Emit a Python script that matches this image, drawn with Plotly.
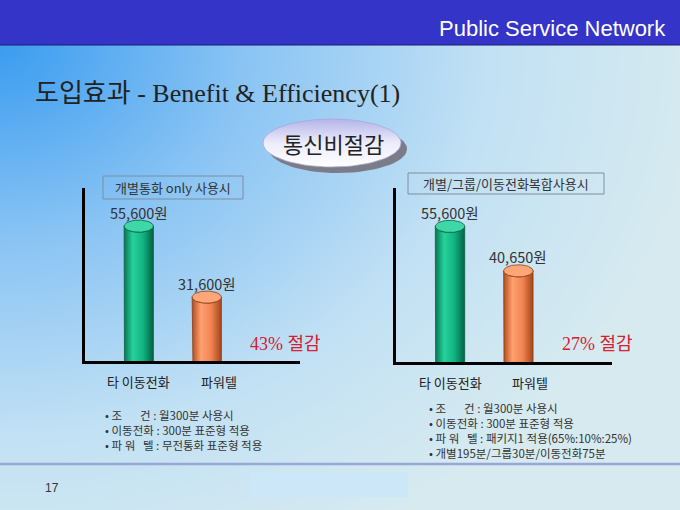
import numpy as np
import plotly.graph_objects as go

W, H = 680, 510

# ---- data ----
categories = ["타 이동전화", "파워텔"]
fee_single = [55600, 31600]    # 개별통화 only 사용시
fee_mixed = [55600, 40650]     # 개별/그룹/이동전화복합사용시
panel_titles = ["개별통화 only 사용시", "개별/그룹/이동전화복합사용시"]
notes_left = [
    "• 조\u00a0\u00a0\u00a0\u00a0\u00a0\u00a0\u00a0건 : 월300분 사용시",
    "• 이동전화 : 300분 표준형 적용",
    "• 파\u00a0워\u00a0\u00a0\u00a0텔 : 무전통화 표준형 적용",
]
notes_right = [
    "• 조\u00a0\u00a0\u00a0\u00a0\u00a0\u00a0\u00a0건 : 월300분 사용시",
    "• 이동전화 : 300분 표준형 적용",
    "• 파\u00a0워\u00a0\u00a0\u00a0텔 : 패키지1 적용(65%:10%:25%)",
    "• 개별195분/그룹30분/이동전화75분",
]

KR = "Noto Sans CJK KR"
SERIF = "Liberation Serif, Noto Sans CJK KR"
Y_RANGE = [10000, 68500]
X_RANGE = [-0.79, 2.37]


def px(x, y):
    return x / W, 1 - y / H


fig = go.Figure()

# background gradient on a hidden page axis (pixel coords)
gx = np.linspace(0, W, 35)
gy = np.linspace(0, H, 30)
GX, GY = np.meshgrid(gx, gy)
gz = np.clip(np.sqrt((GX / 700) ** 2 + (np.clip(GY - 45, 0, None) / 560) ** 2), 0, 1)
fig.add_trace(go.Heatmap(
    x=gx, y=gy, z=gz, zmin=0, zmax=1, zsmooth="best", showscale=False,
    hoverinfo="skip", xaxis="x", yaxis="y",
    colorscale=[[0, "#3A9CF0"], [0.35, "#8AC4F4"], [0.7, "#C2E1F4"], [1, "#D6EAF0"]],
))

# oval badge
t = np.linspace(0, 2 * np.pi, 80)
cx, cy, rx, ry = 332, 143, 69, 24
fig.add_trace(go.Scatter(x=cx + 6 + rx * np.cos(t), y=cy + 6 + ry * np.sin(t), mode="lines",
                         fill="toself", fillcolor="#7C7C88", line=dict(width=0),
                         hoverinfo="skip", xaxis="x", yaxis="y"))
fig.add_trace(go.Scatter(x=cx + rx * np.cos(t), y=cy + ry * np.sin(t), mode="lines",
                         fill="toself", line=dict(width=0.8, color="#A8A8D8"),
                         fillgradient=dict(type="vertical",
                                           colorscale=[[0, "#FFFFFF"], [0.5, "#ECECFC"], [1, "#B4B4E8"]]),
                         hoverinfo="skip", xaxis="x", yaxis="y"))


def cylinder(i, v, xa, ya, body, top, edge):
    w = 0.215
    h = 0.035 * (Y_RANGE[1] - Y_RANGE[0])
    base = Y_RANGE[0]
    a1 = np.linspace(np.pi, 2 * np.pi, 30)
    a2 = np.linspace(0, -np.pi, 30)
    xs = np.concatenate([[i - w], i + w * np.cos(a1), i + w * np.cos(a2)])
    ys = np.concatenate([[v], base + h * np.sin(a1), v + h * np.sin(a2)])
    fig.add_trace(go.Scatter(x=xs, y=ys, mode="lines", fill="toself",
                             fillgradient=dict(type="horizontal", colorscale=body),
                             line=dict(color=edge, width=0.8), hoverinfo="skip",
                             xaxis=xa, yaxis=ya))
    fig.add_trace(go.Scatter(x=i + w * np.cos(t), y=v + h * np.sin(t), mode="lines",
                             fill="toself", fillcolor=top, line=dict(color=edge, width=0.8),
                             hoverinfo="skip", xaxis=xa, yaxis=ya))


green = [[0, "#077550"], [0.3, "#26D29C"], [0.65, "#12B281"], [1, "#046243"]]
orange = [[0, "#B44C1C"], [0.3, "#FFA070"], [0.65, "#F08452"], [1, "#A4441A"]]
bar_styles = [(green, "#3ED8A6", "#0B5E42"), (orange, "#FFA678", "#8E3E14")]

panels = [(fee_single, "x2", "y2"), (fee_mixed, "x3", "y3")]
for fees, xa, ya in panels:
    for i, v in enumerate(fees):
        body, top, edge = bar_styles[i]
        cylinder(i, v, xa, ya, body, top, edge)

annotations = []
label_xshift = [0, 12]
save_pos = [(285, 344), (597, 344)]
for k, (fees, xa, ya) in enumerate(panels):
    for i, v in enumerate(fees):
        annotations.append(dict(x=i, y=v, xref=xa, yref=ya, text=f"{v:,}원", showarrow=False,
                                xanchor="center", yanchor="middle", yshift=14,
                                font=dict(family=KR, size=14.5, color="#333333")))
        annotations.append(dict(x=i, y=Y_RANGE[0], xref=xa, yref=ya, text=categories[i],
                                showarrow=False, xanchor="center", yanchor="middle",
                                yshift=-20, xshift=label_xshift[i],
                                font=dict(family=KR, size=13, color="#222222")))
    pct = round((1 - fees[1] / fees[0]) * 100)
    sx, sy = px(*save_pos[k])
    annotations.append(dict(x=sx, y=sy, xref="paper", yref="paper", text=f"{pct}% 절감",
                            showarrow=False, xanchor="center", yanchor="middle",
                            font=dict(family=SERIF, size=18, color="#D42030")))

# panel title boxes
boxes = [(103, 176, 243, 199), (408, 173, 604, 194)]
shapes = []
for (x0, y0, x1, y1), txt in zip(boxes, panel_titles):
    a0, b0 = px(x0, y0)
    a1, b1 = px(x1, y1)
    shapes.append(dict(type="rect", xref="paper", yref="paper", x0=a0, x1=a1, y0=b1, y1=b0,
                       line=dict(color="#7F8E9E", width=1), layer="above"))
    annotations.append(dict(x=(a0 + a1) / 2, y=(b0 + b1) / 2, xref="paper", yref="paper",
                            text=txt, showarrow=False, xanchor="center", yanchor="middle",
                            font=dict(family=KR, size=13, color="#333333")))

# header, separator line, footer box
shapes.append(dict(type="rect", xref="paper", yref="paper", x0=0, x1=1, y0=px(0, 45)[1], y1=1,
                   fillcolor="#3434C8", line=dict(width=0), layer="above"))
shapes.append(dict(type="line", xref="paper", yref="paper", x0=0, x1=1, y0=px(0, 45)[1],
                   y1=px(0, 45)[1], line=dict(color="#1C1C70", width=1.2), layer="above"))
shapes.append(dict(type="line", xref="paper", yref="paper", x0=0, x1=1, y0=px(0, 464)[1],
                   y1=px(0, 464)[1], line=dict(color="#98A6D8", width=2.5), layer="above"))
shapes.append(dict(type="rect", xref="paper", yref="paper", x0=px(250, 0)[0], x1=px(408, 0)[0],
                   y0=px(0, 497)[1], y1=px(0, 473)[1], fillcolor="#CCE7F8",
                   line=dict(width=0), layer="above"))

texts = [
    (668, 28, "Public Service Network", "right", dict(family="Liberation Sans", size=22, color="#FFFFFF")),
    (33, 93, "도입효과 - Benefit &amp; Efficiency(1)", "left", dict(family=SERIF, size=26, color="#222222")),
    (333, 145, "통신비절감", "center", dict(family=SERIF, size=22, color="#222222")),
    (52, 488, "17", "center", dict(family="Liberation Sans", size=12, color="#333333")),
    (103, 430, "<br>".join(notes_left), "left", dict(family=KR, size=11.5, color="#333333")),
    (427, 430, "<br>".join(notes_right), "left", dict(family=KR, size=11.5, color="#333333")),
]
for x, y, txt, anchor, font in texts:
    ax, ay = px(x, y)
    annotations.append(dict(x=ax, y=ay, xref="paper", yref="paper", text=txt, showarrow=False,
                            xanchor=anchor, yanchor="middle", align="left", font=font))

chart_axis = dict(range=X_RANGE, showline=True, linecolor="#000000", linewidth=3,
                  showgrid=False, zeroline=False, showticklabels=False, ticks="", fixedrange=True)
chart_yaxis = dict(range=Y_RANGE, showline=True, linecolor="#000000", linewidth=3,
                   showgrid=False, zeroline=False, showticklabels=False, ticks="", fixedrange=True)
hidden = dict(visible=False, fixedrange=True, showgrid=False, zeroline=False)

fig.update_layout(
    width=W, height=H, margin=dict(l=0, r=0, t=0, b=0),
    paper_bgcolor="#D6EAF0", plot_bgcolor="rgba(0,0,0,0)", showlegend=False,
    xaxis=dict(hidden, range=[0, W], domain=[0, 1]),
    yaxis=dict(hidden, range=[H, 0], domain=[0, 1]),
    xaxis2=dict(chart_axis, domain=[85 / W, 300 / W], anchor="y2"),
    yaxis2=dict(chart_yaxis, domain=[1 - 361 / H, 1 - 188 / H], anchor="x2"),
    xaxis3=dict(chart_axis, domain=[396 / W, 612 / W], anchor="y3"),
    yaxis3=dict(chart_yaxis, domain=[1 - 362 / H, 1 - 188 / H], anchor="x3"),
    shapes=shapes, annotations=annotations,
)

fig.write_html("out.html", config={"displayModeBar": False},
               post_script="document.body.style.margin='0';document.body.style.overflow='hidden';")
